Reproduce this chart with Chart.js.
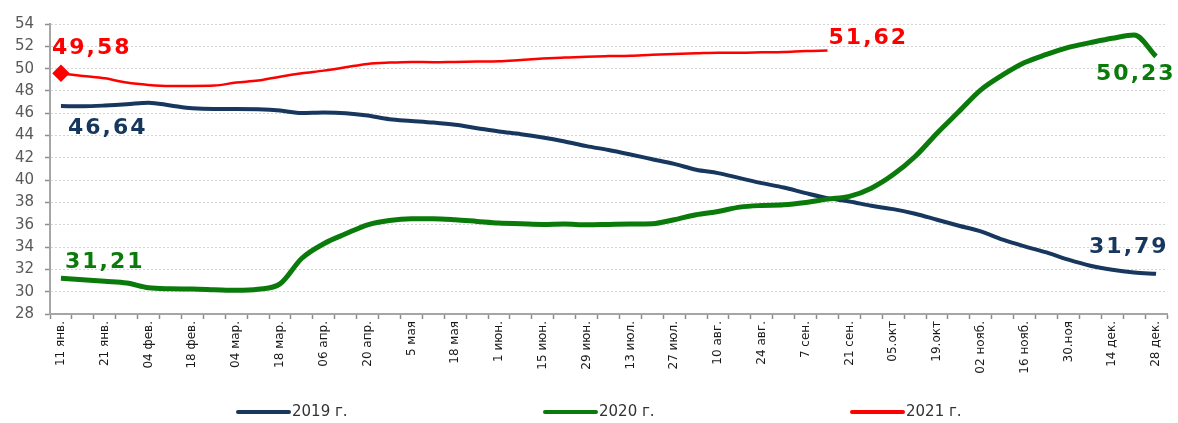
<!DOCTYPE html>
<html lang="ru">
<head>
  <meta charset="UTF-8" />
  <title>2019 - 2021</title>
  <script src="https://cdn.jsdelivr.net/npm/chart.js"></script>
  <style>
    html, body { margin: 0; padding: 0; background: #fff; }
    #wrap { width: 1178px; height: 423px; }
  </style>
</head>
<body>
<div id="wrap"><canvas id="c" width="1178" height="423"></canvas></div>

<script>
  // tick labels (one every second week)
  const tickLabels = ["11 янв.", "21 янв.", "04 фев.", "18 фев.", "04 мар.", "18 мар.", "06 апр.", "20 апр.",
    "5 мая", "18 мая", "1 июн.", "15 июн.", "29 июн.", "13 июл.", "27 июл.", "10 авг.", "24 авг.",
    "7 сен.", "21 сен.", "05.окт", "19.окт", "02 нояб.", "16 нояб.", "30.ноя", "14 дек.", "28 дек."];

  const seriesNames = ["2019 г.", "2020 г.", "2021 г."];

  const y2019 = [46.64, 46.63, 46.69, 46.8, 46.95, 46.7, 46.45, 46.38, 46.38, 46.35, 46.24, 46.02, 46.06,
    46.0, 45.79, 45.46, 45.31, 45.16, 44.96, 44.66, 44.36, 44.12, 43.82, 43.46, 43.05, 42.7,
    42.3, 41.88, 41.46, 40.93, 40.63, 40.18, 39.73, 39.34, 38.84, 38.39, 38.09, 37.7,
    37.4, 36.99, 36.45, 35.91, 35.4, 34.66, 34.06, 33.52, 32.87, 32.33, 31.97, 31.73, 31.6];

  const y2020 = [31.21, 31.07, 30.93, 30.78, 30.35, 30.26, 30.24, 30.18, 30.12, 30.22, 30.7, 33.0, 34.3,
    35.19, 36.0, 36.39, 36.54, 36.54, 36.45, 36.3, 36.15, 36.09, 36.03, 36.06, 36.0, 36.03,
    36.06, 36.09, 36.45, 36.9, 37.19, 37.58, 37.73, 37.79, 38.0, 38.3, 38.54, 39.28,
    40.5, 42.12, 44.21, 46.15, 48.09, 49.43, 50.54, 51.28, 51.91, 52.33, 52.72, 53.01, 51.1];

  const y2021 = [49.58, 49.34, 49.13, 48.75, 48.54, 48.45, 48.45, 48.48, 48.75, 48.93, 49.28, 49.58,
    49.82, 50.12, 50.42, 50.54, 50.6, 50.57, 50.6, 50.63, 50.66, 50.78, 50.9, 50.99, 51.07,
    51.12, 51.16, 51.25, 51.31, 51.37, 51.43, 51.43, 51.46, 51.49, 51.58, 51.62];

  // value labels written on the chart: [dataset, point, text]
  const valueLabels = [
    [2, 0, "49,58"], [0, 0, "46,64"], [1, 0, "31,21"],
    [2, 35, "51,62"], [1, 50, "50,23"], [0, 50, "31,79"]
  ];

  // 51 weekly categories, label on every other one
  const categories = [];
  tickLabels.forEach((t, i) => {
    categories.push(t);
    if (i < tickLabels.length - 1) categories.push("");
  });

  const colors = ["#17375e", "#0a7a0a", "#ff0000"];
  const widths = [4, 5, 2.5];

  // where each value label sits relative to its point (px)
  const labelPos = {
    "2-0": [-9, -25], "0-0": [7, 22], "1-0": [4, -16],
    "2-35": [1, -12], "1-50": [-60, 18], "0-50": [-67, -27]
  };

  const valueLabelPlugin = {
    id: "valueLabels",
    afterDatasetsDraw(chart) {
      const ctx = chart.ctx;
      ctx.save();
      ctx.font = "bold 22px 'DejaVu Sans', Verdana, sans-serif";
      ctx.textBaseline = "middle";
      ctx.textAlign = "left";
      try { ctx.letterSpacing = "2px"; } catch (e) {}
      valueLabels.forEach(([d, p, txt]) => {
        const pt = chart.getDatasetMeta(d).data[p];
        const off = labelPos[d + "-" + p];
        ctx.fillStyle = colors[d];
        ctx.fillText(txt, pt.x + off[0], pt.y + off[1]);
      });
      ctx.restore();
    }
  };

  // y tick labels, right aligned a bit away from the axis
  const yLabelPlugin = {
    id: "yLabels",
    afterDraw(chart) {
      const s = chart.scales.y;
      const ctx = chart.ctx;
      ctx.save();
      ctx.font = "15px 'DejaVu Sans', Verdana, sans-serif";
      ctx.fillStyle = "#595959";
      ctx.textAlign = "right";
      ctx.textBaseline = "middle";
      s.ticks.forEach(t => {
        ctx.fillText(String(t.value), s.right - 16, s.getPixelForValue(t.value));
      });
      ctx.restore();
    }
  };

  const legendPlugin = {
    id: "bottomLegend",
    afterDraw(chart) {
      const ctx = chart.ctx;
      const xs = [238, 545, 852];
      const y = 412;
      ctx.save();
      ctx.font = "15px 'DejaVu Sans', Verdana, sans-serif";
      ctx.textBaseline = "middle";
      ctx.fillStyle = "#333";
      chart.data.datasets.forEach((ds, i) => {
        ctx.strokeStyle = ds.borderColor;
        ctx.lineWidth = 4;
        ctx.lineCap = "round";
        ctx.beginPath();
        ctx.moveTo(xs[i], y);
        ctx.lineTo(xs[i] + 51, y);
        ctx.stroke();
        ctx.fillText(ds.label, xs[i] + 54, y);
      });
      ctx.restore();
    }
  };

  new Chart(document.getElementById("c"), {
    type: "line",
    data: {
      labels: categories,
      datasets: [y2019, y2020, y2021].map((vals, i) => ({
        label: seriesNames[i],
        data: vals,
        borderColor: colors[i],
        backgroundColor: colors[i],
        borderWidth: widths[i],
        tension: 0.35,
        cubicInterpolationMode: "monotone",
        pointStyle: "rectRot",
        pointRadius: ctx => (i === 2 && ctx.dataIndex === 0) ? 7 : 0,
        pointHoverRadius: 0,
        order: 2 - i
      }))
    },
    options: {
      responsive: false,
      animation: false,
      events: [],
      layout: { padding: { top: 24, right: 11, left: 0, bottom: 0 } },
      plugins: {
        legend: { display: false },
        tooltip: { enabled: false }
      },
      scales: {
        x: {
          offset: true,
          afterFit: s => { s.height = 109; },
          grid: {
            offset: true,
            drawOnChartArea: false,
            drawTicks: true,
            tickLength: 5,
            tickColor: "#8c8c8c",
            tickWidth: 1.5
          },
          border: { display: true, color: "#a6a6a6", width: 2 },
          ticks: {
            autoSkip: false,
            maxRotation: 90,
            minRotation: 90,
            padding: 2,
            color: "#1a1a1a",
            font: { family: "'DejaVu Sans', Verdana, sans-serif", size: 12 }
          }
        },
        y: {
          min: 28,
          max: 54,
          afterFit: s => { s.width = 50; },
          grid: {
            color: "#d4d4d4",
            lineWidth: 1,
            tickLength: 5,
            tickColor: "#8c8c8c",
            tickBorderDash: [],
            tickWidth: 1.5
          },
          border: { display: true, color: "#a6a6a6", width: 2, dash: [2, 2] },
          ticks: {
            stepSize: 2,
            display: false
          }
        }
      }
    },
    plugins: [valueLabelPlugin, yLabelPlugin, legendPlugin]
  });
</script>
</body>
</html>
